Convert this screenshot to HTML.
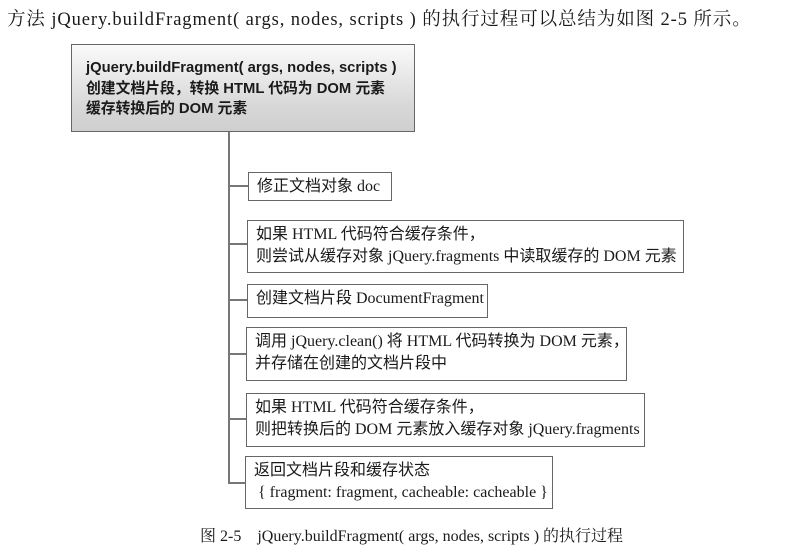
<!DOCTYPE html>
<html><head><meta charset="utf-8"><style>
body{margin:0;width:788px;height:558px;background:#fff;position:relative;overflow:hidden;font-family:"Liberation Serif","Noto Serif CJK SC",serif;color:#1a1a1a}
.t{position:absolute;white-space:nowrap}
.b{position:absolute;border:1.5px solid #666;box-sizing:border-box;background:#fff;font-size:16px;line-height:22px;padding:3px 0 0 8px;white-space:nowrap;font-family:"Liberation Serif","Noto Sans CJK SC",serif}
.l{position:absolute;background:#777}
</style></head><body>
<div class="t" style="left:7px;top:5px;font-size:18.5px;letter-spacing:0.9px">方法 jQuery.buildFragment( args, nodes, scripts ) 的执行过程可以总结为如图 2-5 所示。</div>
<div class="b" style="left:71px;top:44px;width:344px;height:88px;background:linear-gradient(#fafafa,#d8d8d8 70%,#cfcfcf);font-family:'Liberation Sans','Noto Sans CJK SC',sans-serif;font-weight:bold;font-size:14.8px;line-height:20.5px;padding:13px 0 0 14px">jQuery.buildFragment( args, nodes, scripts )<br>创建文档片段，转换 HTML 代码为 DOM 元素<br>缓存转换后的 DOM 元素</div>
<div class="l" style="left:228px;top:132px;width:1.5px;height:351px"></div>
<div class="l" style="left:228px;top:185px;width:20px;height:1.5px"></div>
<div class="l" style="left:228px;top:243px;width:20px;height:1.5px"></div>
<div class="l" style="left:228px;top:299px;width:20px;height:1.5px"></div>
<div class="l" style="left:228px;top:353px;width:20px;height:1.5px"></div>
<div class="l" style="left:228px;top:418px;width:20px;height:1.5px"></div>
<div class="l" style="left:228px;top:482px;width:18px;height:1.5px"></div>
<div class="b" style="left:248px;top:172px;width:144px;height:29px">修正文档对象 doc</div>
<div class="b" style="left:247px;top:220px;width:437px;height:53px">如果 HTML 代码符合缓存条件，<br>则尝试从缓存对象 jQuery.fragments 中读取缓存的 DOM 元素</div>
<div class="b" style="left:247px;top:284px;width:241px;height:34px">创建文档片段 DocumentFragment</div>
<div class="b" style="left:246px;top:327px;width:381px;height:54px">调用 jQuery.clean() 将 HTML 代码转换为 DOM 元素，<br>并存储在创建的文档片段中</div>
<div class="b" style="left:246px;top:393px;width:399px;height:54px">如果 HTML 代码符合缓存条件，<br>则把转换后的 DOM 元素放入缓存对象 jQuery.fragments</div>
<div class="b" style="left:245px;top:456px;width:308px;height:53px">返回文档片段和缓存状态<br>&nbsp;{ fragment: fragment, cacheable: cacheable }</div>
<div class="t" style="left:200px;top:523px;font-size:16px">图 2-5　jQuery.buildFragment( args, nodes, scripts ) 的执行过程</div>
</body></html>
